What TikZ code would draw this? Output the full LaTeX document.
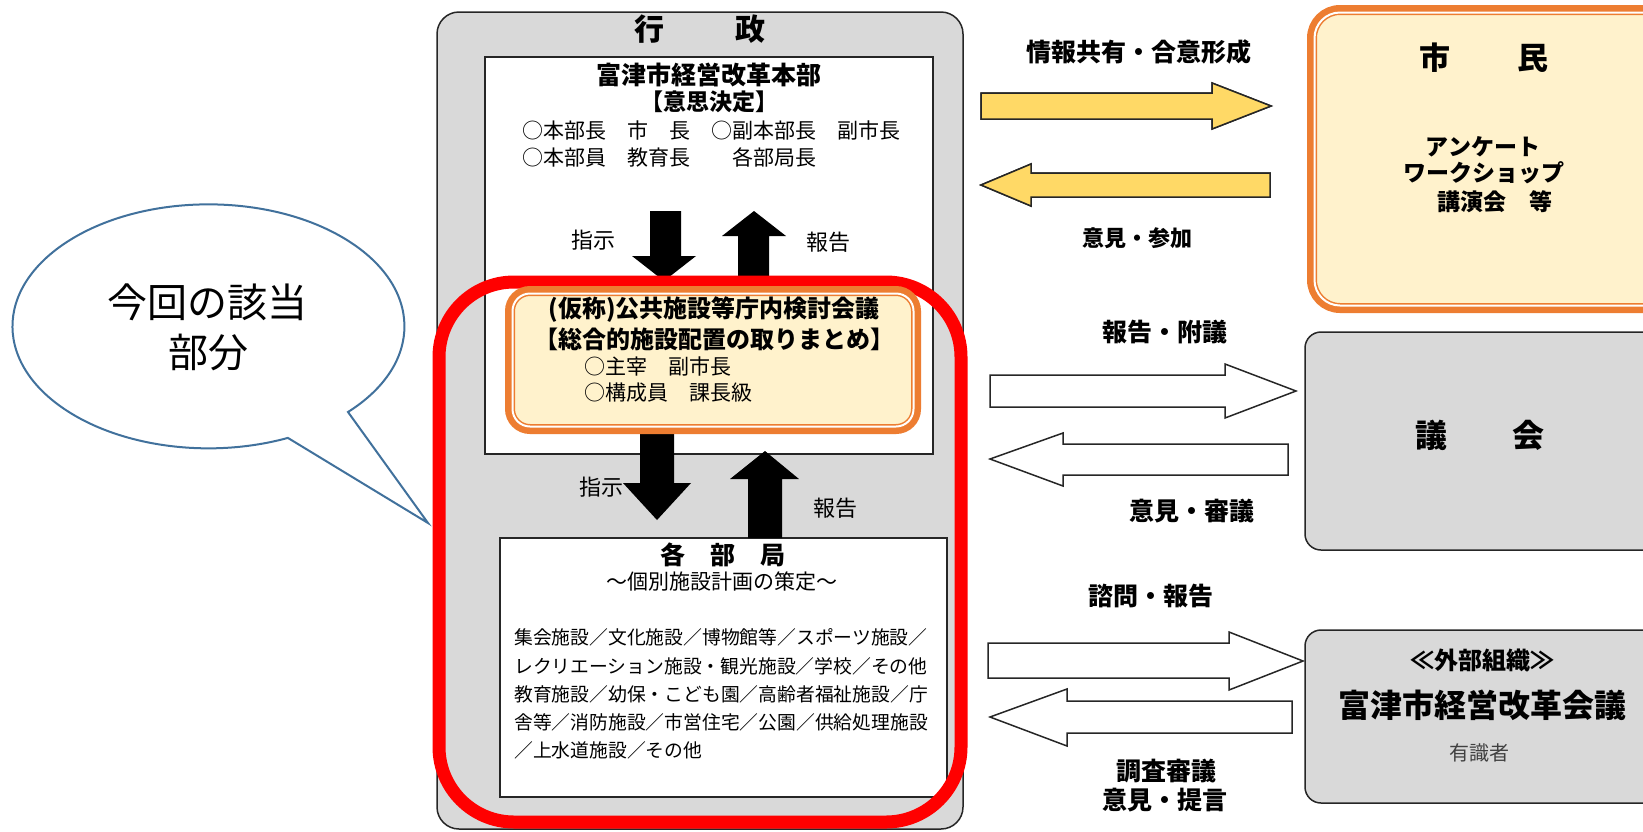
\documentclass[tikz,border=0pt]{standalone}
\usepackage{fontspec}
\setmainfont{Noto Sans CJK JP}
\newcommand\fsz[1]{\fontsize{#1}{#1}\selectfont}
\definecolor{grayfill}{HTML}{D9D9D9}
\definecolor{orng}{HTML}{ED7D31}
\definecolor{lyel}{HTML}{FFF2CC}
\definecolor{ayel}{HTML}{FFD966}
\definecolor{bub}{HTML}{41719C}
\definecolor{dkgray}{HTML}{404040}
\begin{document}
\begin{tikzpicture}[x=1pt,y=-1pt,
  txt/.style={inner sep=0pt, text=black},
  bodytxt/.style={txt, anchor=west, font=\fsz{21}},
  lbl/.style={txt, font=\fsz{25}\bfseries},
  smalllbl/.style={txt, font=\fsz{22}},
  boxline/.style={draw=black!85, line width=1.5pt},
  blk/.style={fill=black},
  yelarrow/.style={fill=ayel, draw=black!85, line width=1.5pt, line join=miter},
  whtarrow/.style={fill=white, draw=black!85, line width=1.5pt, line join=miter},
  grayrbox/.style={fill=grayfill, boxline, rounded corners=16pt},
]
\useasboundingbox (0,0) rectangle (1643,831);

% ---------- 行政 outer box ----------
\draw[fill=grayfill, boxline, rounded corners=22pt] (437,12) rectangle (963,829);
\node[txt, font=\fsz{30}\bfseries] (gyosei) at (700,29) {行\hspace{71pt}政};

% ---------- 本部 box ----------
\draw[fill=white, boxline] (485,57) rectangle (933,454);
\node[txt, font=\fsz{25}\bfseries] (honbu) at (709,75) {富津市経営改革本部};
\node[txt, font=\fsz{23}\bfseries] (ishi) at (709,102) {【意思決定】};
\node[bodytxt] (hb1) at (522,130) {○本部長　市　長　○副本部長　副市長};
\node[bodytxt] (hb2) at (522,157) {○本部員　教育長　　各部局長};

% black arrows (upper)
\fill[blk] (650,211) -- (681,211) -- (681,256) -- (696,256) -- (664,281) -- (632,256) -- (650,256) -- cycle;
\fill[blk] (754,211) -- (786,236) -- (769,236) -- (769,292) -- (738,292) -- (738,236) -- (722,236) -- cycle;
\node[smalllbl] (shiji1) at (593,240) {指示};
\node[smalllbl] (hokoku1) at (828,242) {報告};

% ---------- 各部局 box ----------
\draw[fill=white, boxline] (500,538) rectangle (947,797);
\node[txt, font=\fsz{25}\bfseries] (kakubu) at (723,555) {各\hspace{25pt}部\hspace{25pt}局};
\node[txt, font=\fsz{21}] (kobetsu) at (722,582) {～個別施設計画の策定～};
\node[txt, anchor=west, font=\fsz{18.8}] (l1) at (514,637) {集会施設／文化施設／博物館等／スポーツ施設／};
\node[txt, anchor=west, font=\fsz{18.8}] (l2) at (514,666) {レクリエーション施設・観光施設／学校／その他};
\node[txt, anchor=west, font=\fsz{18.8}] (l3) at (514,694) {教育施設／幼保・こども園／高齢者福祉施設／庁};
\node[txt, anchor=west, font=\fsz{18.8}] (l4) at (514,722) {舎等／消防施設／市営住宅／公園／供給処理施設};
\node[txt, anchor=west, font=\fsz{18.8}] (l5) at (514,750) {／上水道施設／その他};

% black arrows (lower)
\fill[blk] (640,434) -- (674,434) -- (674,483) -- (691,483) -- (657,520) -- (623,483) -- (640,483) -- cycle;
\fill[blk] (765,451) -- (799,479) -- (782,479) -- (782,538) -- (748,538) -- (748,479) -- (730,479) -- cycle;
\node[smalllbl] (shiji2) at (601,487) {指示};
\node[smalllbl] (hokoku2) at (835,508) {報告};

% ---------- red highlight ----------
\draw[red, line width=13pt, rounded corners=75pt] (439,282) rectangle (961,822);

% ---------- 検討会議 orange box ----------
\draw[fill=lyel, draw=orng, line width=10pt, rounded corners=20pt] (510,291) rectangle (916,429);
\draw[white, line width=2pt, rounded corners=17.5pt] (512.5,293.5) rectangle (913.5,426.5);
\node[txt, font=\fsz{24}\bfseries] (kaigi) at (714,310) {(仮称)公共施設等庁内検討会議};
\node[txt, font=\fsz{24}\bfseries] (torimatome) at (714,339) {【総合的施設配置の取りまとめ】};
\node[bodytxt] (shusai) at (584,366) {○主宰　副市長};
\node[bodytxt] (kosei) at (584,393) {○構成員　課長級};

% ---------- speech bubble ----------
\draw[bub, line width=2pt, fill=white] (348,412) arc[start angle=-44.6, end angle=293.9, x radius=196pt, y radius=122pt] -- (428,523) -- cycle;
\node[txt, font=\fsz{40}] (kon1) at (207,302) {今回の該当};
\node[txt, font=\fsz{40}] (kon2) at (208,352) {部分};

% ---------- 市民 ----------
\draw[fill=lyel, draw=orng, line width=10pt, rounded corners=28pt] (1312,10) rectangle (1700,308);
\draw[white, line width=2pt, rounded corners=25.5pt] (1314.5,12.5) rectangle (1700,305.5);
\node[txt, font=\fsz{31}\bfseries] (shimin) at (1484,58) {市\hspace{67pt}民};
\node[txt, font=\fsz{23}\bfseries] (anketo) at (1483,147) {アンケート};
\node[txt, font=\fsz{23}\bfseries] (ws) at (1484,173) {ワークショップ};
\node[txt, font=\fsz{23}\bfseries] (koen) at (1495,202) {講演会　等};

\fill[yelarrow] (981,93) -- (1212,93) -- (1212,83) -- (1271,106) -- (1212,129) -- (1212,119) -- (981,119) -- cycle;
\fill[yelarrow] (981,185) -- (1031,164) -- (1031,173) -- (1270,173) -- (1270,197) -- (1031,197) -- (1031,206) -- cycle;
\draw[yelarrow] (981,93) -- (1212,93) -- (1212,83) -- (1271,106) -- (1212,129) -- (1212,119) -- (981,119) -- cycle;
\draw[yelarrow] (981,185) -- (1031,164) -- (1031,173) -- (1270,173) -- (1270,197) -- (1031,197) -- (1031,206) -- cycle;
\node[lbl] (joho) at (1139,52) {情報共有・合意形成};
\node[txt, font=\fsz{22}\bfseries] (sanka) at (1137,238) {意見・参加};

% ---------- 議会 ----------
\draw[grayrbox] (1305,332) rectangle (1700,550);
\node[txt, font=\fsz{32}\bfseries] (gikai) at (1480,435) {議\hspace{65pt}会};
\draw[whtarrow] (990,375) -- (1225,375) -- (1225,364) -- (1296,391) -- (1225,418) -- (1225,407) -- (990,407) -- cycle;
\draw[whtarrow] (990,459) -- (1063,433) -- (1063,444) -- (1288,444) -- (1288,475) -- (1063,475) -- (1063,486) -- cycle;
\node[lbl] (fugi) at (1165,332) {報告・附議};
\node[lbl] (shingi) at (1192,511) {意見・審議};

% ---------- 外部組織 ----------
\draw[grayrbox] (1305,630) rectangle (1700,803);
\node[txt, font=\fsz{24}\bfseries] (gaibu) at (1482,660) {≪外部組織≫};
\node[txt, font=\fsz{32}\bfseries] (keiei) at (1482,705) {富津市経営改革会議};
\node[txt, font=\fsz{20}, text=dkgray] (yushiki) at (1479,753) {有識者};
\draw[whtarrow] (988,643) -- (1229,643) -- (1229,632) -- (1303,661) -- (1229,690) -- (1229,678) -- (988,678) -- cycle;
\draw[whtarrow] (990,717) -- (1067,689) -- (1067,701) -- (1292,701) -- (1292,733) -- (1067,733) -- (1067,746) -- cycle;
\node[lbl] (shimon) at (1151,596) {諮問・報告};
\node[lbl] (chosa) at (1166,771) {調査審議};
\node[lbl] (teigen) at (1165,800) {意見・提言};
\end{tikzpicture}
\end{document}
